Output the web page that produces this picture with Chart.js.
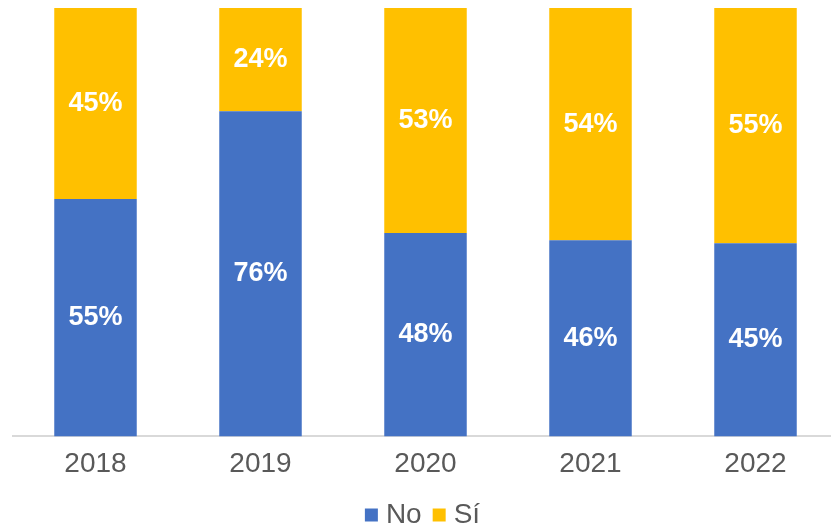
<!DOCTYPE html>
<html>
<head>
<meta charset="utf-8">
<script src="https://cdn.jsdelivr.net/npm/chart.js@4/dist/chart.umd.min.js"></script>
<style>
    html, body { margin: 0; padding: 0; background: #fff; overflow: hidden; }
    #wrap { position: relative; width: 839px; height: 526px; }
</style>
</head>
<body>
<div id="wrap"><canvas id="chart"></canvas></div>
<script>
// Chart data
const years = ['2018', '2019', '2020', '2021', '2022'];
const seriesNames = ['No', 'Sí'];
const noValues = [55.4, 75.9, 47.5, 45.8, 45.1];
const siValues = [44.6, 24.1, 52.5, 54.2, 54.9];
const seriesColors = ['#4472C4', '#FFC000'];

const FONT = '"Liberation Sans", Arial, Helvetica, sans-serif';

// Draws the rounded percentage in the middle of each bar segment
const segmentLabels = {
    id: 'segmentLabels',
    afterDatasetsDraw(chart) {
        const ctx = chart.ctx;
        ctx.save();
        ctx.font = 'bold 27px ' + FONT;
        ctx.fillStyle = '#FFFFFF';
        ctx.textAlign = 'center';
        ctx.textBaseline = 'middle';
        chart.data.datasets.forEach((ds, i) => {
            const meta = chart.getDatasetMeta(i);
            meta.data.forEach((bar, j) => {
                const y = (bar.y + bar.base) / 2;
                ctx.fillText(Math.round(ds.data[j]) + '%', bar.x, y);
            });
        });
        ctx.restore();
    }
};

new Chart(document.getElementById('chart'), {
    type: 'bar',
    data: {
        labels: years,
        datasets: [
            {
                label: seriesNames[0],
                data: noValues,
                backgroundColor: seriesColors[0],
                barPercentage: 0.5,
                categoryPercentage: 1
            },
            {
                label: seriesNames[1],
                data: siValues,
                backgroundColor: seriesColors[1],
                barPercentage: 0.5,
                categoryPercentage: 1
            }
        ]
    },
    options: {
        responsive: true,
        maintainAspectRatio: false,
        animation: false,
        layout: {
            padding: { left: 13, right: 1, top: 8, bottom: -13 }
        },
        scales: {
            x: {
                stacked: true,
                grid: { display: false },
                border: { display: true, color: '#D9D9D9', width: 2 },
                ticks: {
                    color: '#595959',
                    font: { family: FONT, size: 28 },
                    padding: 3
                }
            },
            y: {
                stacked: true,
                display: false,
                min: 0,
                max: 100
            }
        },
        plugins: {
            legend: {
                position: 'bottom',
                labels: {
                    color: '#595959',
                    font: { family: FONT, size: 28 },
                    // square markers; a tiny boxWidth keeps the text close to them
                    usePointStyle: true,
                    pointStyle: 'rect',
                    boxWidth: 1,
                    boxHeight: 13,
                    padding: 17
                }
            },
            tooltip: { enabled: false }
        }
    },
    plugins: [segmentLabels]
});
</script>
</body>
</html>
